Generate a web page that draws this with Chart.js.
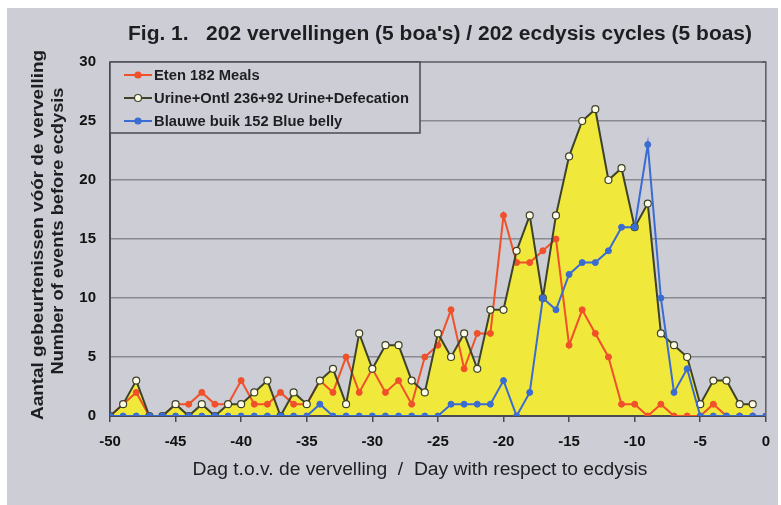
<!DOCTYPE html>
<html>
<head>
<meta charset="utf-8">
<script src="https://cdn.jsdelivr.net/npm/chart.js@4.4.1/dist/chart.umd.min.js"></script>
<style>
    html, body { margin: 0; padding: 0; background: #fff; }
    #wrap { width: 781px; height: 505px; }
</style>
</head>
<body>
<div id="wrap"><canvas id="chart" width="781" height="505"></canvas></div>
<script>
// --- Data ---
const days = [-50, -49, -48, -47, -46, -45, -44, -43, -42, -41,
              -40, -39, -38, -37, -36, -35, -34, -33, -32, -31,
              -30, -29, -28, -27, -26, -25, -24, -23, -22, -21,
              -20, -19, -18, -17, -16, -15, -14, -13, -12, -11,
              -10, -9, -8, -7, -6, -5, -4, -3, -2, -1, 0];

// Eten 182 Meals
const meals = [0, 1, 2, 0, 0, 1, 1, 2, 1, 1,
               3, 1, 1, 2, 1, 1, 3, 2, 5, 2,
               4, 2, 3, 1, 5, 6, 9, 4, 7, 7,
               17, 13, 13, 14, 15, 6, 9, 7, 5, 1,
               1, 0, 1, 0, 0, 0, 1, 0, 0, 0, 0];

// Urine+Ontl 236+92 Urine+Defecation
const urine = [0, 1, 3, 0, 0, 1, 0, 1, 0, 1,
               1, 2, 3, 0, 2, 1, 3, 4, 1, 7,
               4, 6, 6, 3, 2, 7, 5, 7, 4, 9,
               9, 14, 17, 10, 17, 22, 25, 26, 20, 21,
               16, 18, 7, 6, 5, 1, 3, 3, 1, 1, null];

// Blauwe buik 152 Blue belly
const belly = [0, 0, 0, 0, 0, 0, 0, 0, 0, 0,
               0, 0, 0, 0, 0, 0, 1, 0, 0, 0,
               0, 0, 0, 0, 0, 0, 1, 1, 1, 1,
               3, 0, 2, 10, 9, 12, 13, 13, 14, 16,
               16, 23, 10, 2, 4, 0, 0, 0, 0, 0, 0];

const xTicks = [-50, -45, -40, -35, -30, -25, -20, -15, -10, -5, 0];
const yTicks = [0, 5, 10, 15, 20, 25, 30];

const seriesNames = ['Eten 182 Meals', 'Urine+Ontl 236+92 Urine+Defecation', 'Blauwe buik 152 Blue belly'];
const titleText = 'Fig. 1.\u00a0\u00a0\u00a0202 vervellingen (5 boa\'s) / 202 ecdysis cycles (5 boas)';
const yTitle1 = 'Aantal gebeurtenissen vóór de vervelling';
const yTitle2 = 'Number of events before ecdysis';
const xTitle = 'Dag t.o.v. de vervelling\u00a0\u00a0/\u00a0\u00a0Day with respect to ecdysis';

// --- Colours ---
const BG = '#cccdd5';
const RED = '#f0502a';
const OLIVE = '#3e4228';
const YELLOW = '#f1e83c';
const BLUE = '#3a6cd2';
const INK = '#1e1e22';
const FONT = '"Liberation Sans", Arial, sans-serif';

const toPoints = (vals) => days.map((d, i) => ({ x: d, y: vals[i] }));

// draw text centred at (cx, cy), stretched to a given width, optionally rotated
function fitText(ctx, text, cx, cy, width, rot) {
    const w = ctx.measureText(text).width;
    ctx.save();
    ctx.translate(cx, cy);
    if (rot) ctx.rotate(rot);
    ctx.scale(width / w, 1);
    ctx.fillText(text, 0, 0);
    ctx.restore();
}

// --- Decorations: background, frame, titles, legend box ---
const decor = {
    id: 'decor',
    beforeDraw(chart) {
        const ctx = chart.ctx;
        ctx.save();
        ctx.fillStyle = '#fff';
        ctx.fillRect(0, 0, chart.width, chart.height);
        ctx.fillStyle = BG;
        ctx.fillRect(7, 8, chart.width - 10, chart.height - 8);
        ctx.restore();
    },
    beforeDatasetsDraw(chart) {
        const { ctx, chartArea: a } = chart;
        ctx.save();
        ctx.strokeStyle = '#5a5a60';
        ctx.lineWidth = 1.5;
        ctx.beginPath();
        ctx.moveTo(a.left, a.top);
        ctx.lineTo(a.right, a.top);
        ctx.lineTo(a.right, a.bottom);
        ctx.stroke();
        // small ticks on the right border
        const ys = chart.scales.y;
        yTicks.forEach(v => {
            const py = ys.getPixelForValue(v);
            ctx.beginPath();
            ctx.moveTo(a.right - 4, py);
            ctx.lineTo(a.right, py);
            ctx.stroke();
        });
        ctx.strokeStyle = '#4a4a50';
        ctx.lineWidth = 2;
        ctx.beginPath();
        ctx.moveTo(a.left, a.top);
        ctx.lineTo(a.left, a.bottom);
        ctx.lineTo(a.right, a.bottom);
        ctx.stroke();
        ctx.restore();
    },
    afterDraw(chart) {
        const ctx = chart.ctx;
        ctx.save();
        ctx.fillStyle = INK;
        ctx.textAlign = 'center';
        ctx.textBaseline = 'middle';

        ctx.font = 'bold 20px ' + FONT;
        fitText(ctx, titleText, 440, 34, 624);

        ctx.font = '18px ' + FONT;
        fitText(ctx, xTitle, 420, 470, 455);

        ctx.font = 'bold 17px ' + FONT;
        fitText(ctx, yTitle1, 38, 235, 370, -Math.PI / 2);
        fitText(ctx, yTitle2, 58, 231, 287, -Math.PI / 2);

        // legend box
        const bx = chart.chartArea.left, by = chart.chartArea.top;
        const bw = 310, bh = 71;
        ctx.fillStyle = BG;
        ctx.fillRect(bx, by, bw, bh);
        ctx.strokeStyle = '#4a4a50';
        ctx.lineWidth = 1.5;
        ctx.strokeRect(bx, by, bw, bh);

        ctx.textAlign = 'left';
        ctx.font = 'bold 14px ' + FONT;
        const longest = Math.max(...chart.data.datasets.map(d => ctx.measureText(d.label).width));
        const sx = 255 / longest;
        chart.data.datasets.forEach((ds, k) => {
            const y = by + 13 + k * 23;
            ctx.strokeStyle = ds.borderColor;
            ctx.lineWidth = 2;
            ctx.beginPath();
            ctx.moveTo(bx + 14, y);
            ctx.lineTo(bx + 42, y);
            ctx.stroke();
            ctx.beginPath();
            ctx.arc(bx + 28, y, ds.pointRadius, 0, Math.PI * 2);
            ctx.fillStyle = ds.pointBackgroundColor;
            ctx.fill();
            ctx.lineWidth = 1.2;
            ctx.strokeStyle = ds.pointBorderColor;
            ctx.stroke();
            ctx.fillStyle = INK;
            ctx.save();
            ctx.translate(bx + 44, y + 1);
            ctx.scale(sx, 1);
            ctx.fillText(ds.label, 0, 0);
            ctx.restore();
        });
        ctx.restore();
    }
};

const chart = new Chart(document.getElementById('chart').getContext('2d'), {
    type: 'line',
    data: {
        datasets: [
            {
                label: seriesNames[0],
                data: toPoints(meals),
                borderColor: RED,
                backgroundColor: RED,
                pointBackgroundColor: RED,
                pointBorderColor: RED,
                borderWidth: 2,
                pointRadius: 3,
                pointBorderWidth: 1,
                fill: false,
                order: 2
            },
            {
                label: seriesNames[1],
                data: toPoints(urine),
                borderColor: OLIVE,
                backgroundColor: YELLOW,
                pointBackgroundColor: '#fdfbe6',
                pointBorderColor: OLIVE,
                borderWidth: 2,
                pointRadius: 3.5,
                pointBorderWidth: 1.2,
                fill: 'origin',
                order: 1
            },
            {
                label: seriesNames[2],
                data: toPoints(belly),
                borderColor: BLUE,
                backgroundColor: BLUE,
                pointBackgroundColor: BLUE,
                pointBorderColor: BLUE,
                borderWidth: 2,
                pointRadius: 3,
                pointBorderWidth: 1,
                fill: false,
                order: 0
            }
        ]
    },
    options: {
        responsive: false,
        devicePixelRatio: 1,
        animation: false,
        layout: { padding: { top: 62, right: 12, left: 0, bottom: 0 } },
        scales: {
            x: {
                type: 'linear',
                min: -50,
                max: 0,
                afterFit: (s) => { s.height = 89; },
                afterBuildTicks: (s) => { s.ticks = xTicks.map(v => ({ value: v })); },
                grid: {
                    drawOnChartArea: false,
                    drawTicks: true,
                    tickLength: 6,
                    color: '#4a4a50',
                    lineWidth: 1.5
                },
                border: { display: false },
                ticks: {
                    padding: 11,
                    color: '#111',
                    font: { family: FONT, size: 15, weight: 'bold' },
                    maxRotation: 0
                }
            },
            y: {
                min: 0,
                max: 30,
                afterFit: (s) => { s.width = 110; },
                afterBuildTicks: (s) => { s.ticks = yTicks.map(v => ({ value: v })); },
                grid: {
                    drawTicks: false,
                    color: (c) => (c.tick && (c.tick.value === 0 || c.tick.value === 30)) ? 'rgba(0,0,0,0)' : '#8a8a92',
                    lineWidth: 1.5
                },
                border: { display: false },
                ticks: {
                    padding: 14,
                    color: '#111',
                    font: { family: FONT, size: 15, weight: 'bold' }
                }
            }
        },
        plugins: {
            legend: { display: false },
            tooltip: { enabled: false },
            filler: { drawTime: 'beforeDatasetsDraw' }
        }
    },
    plugins: [decor]
});
</script>
</body>
</html>
